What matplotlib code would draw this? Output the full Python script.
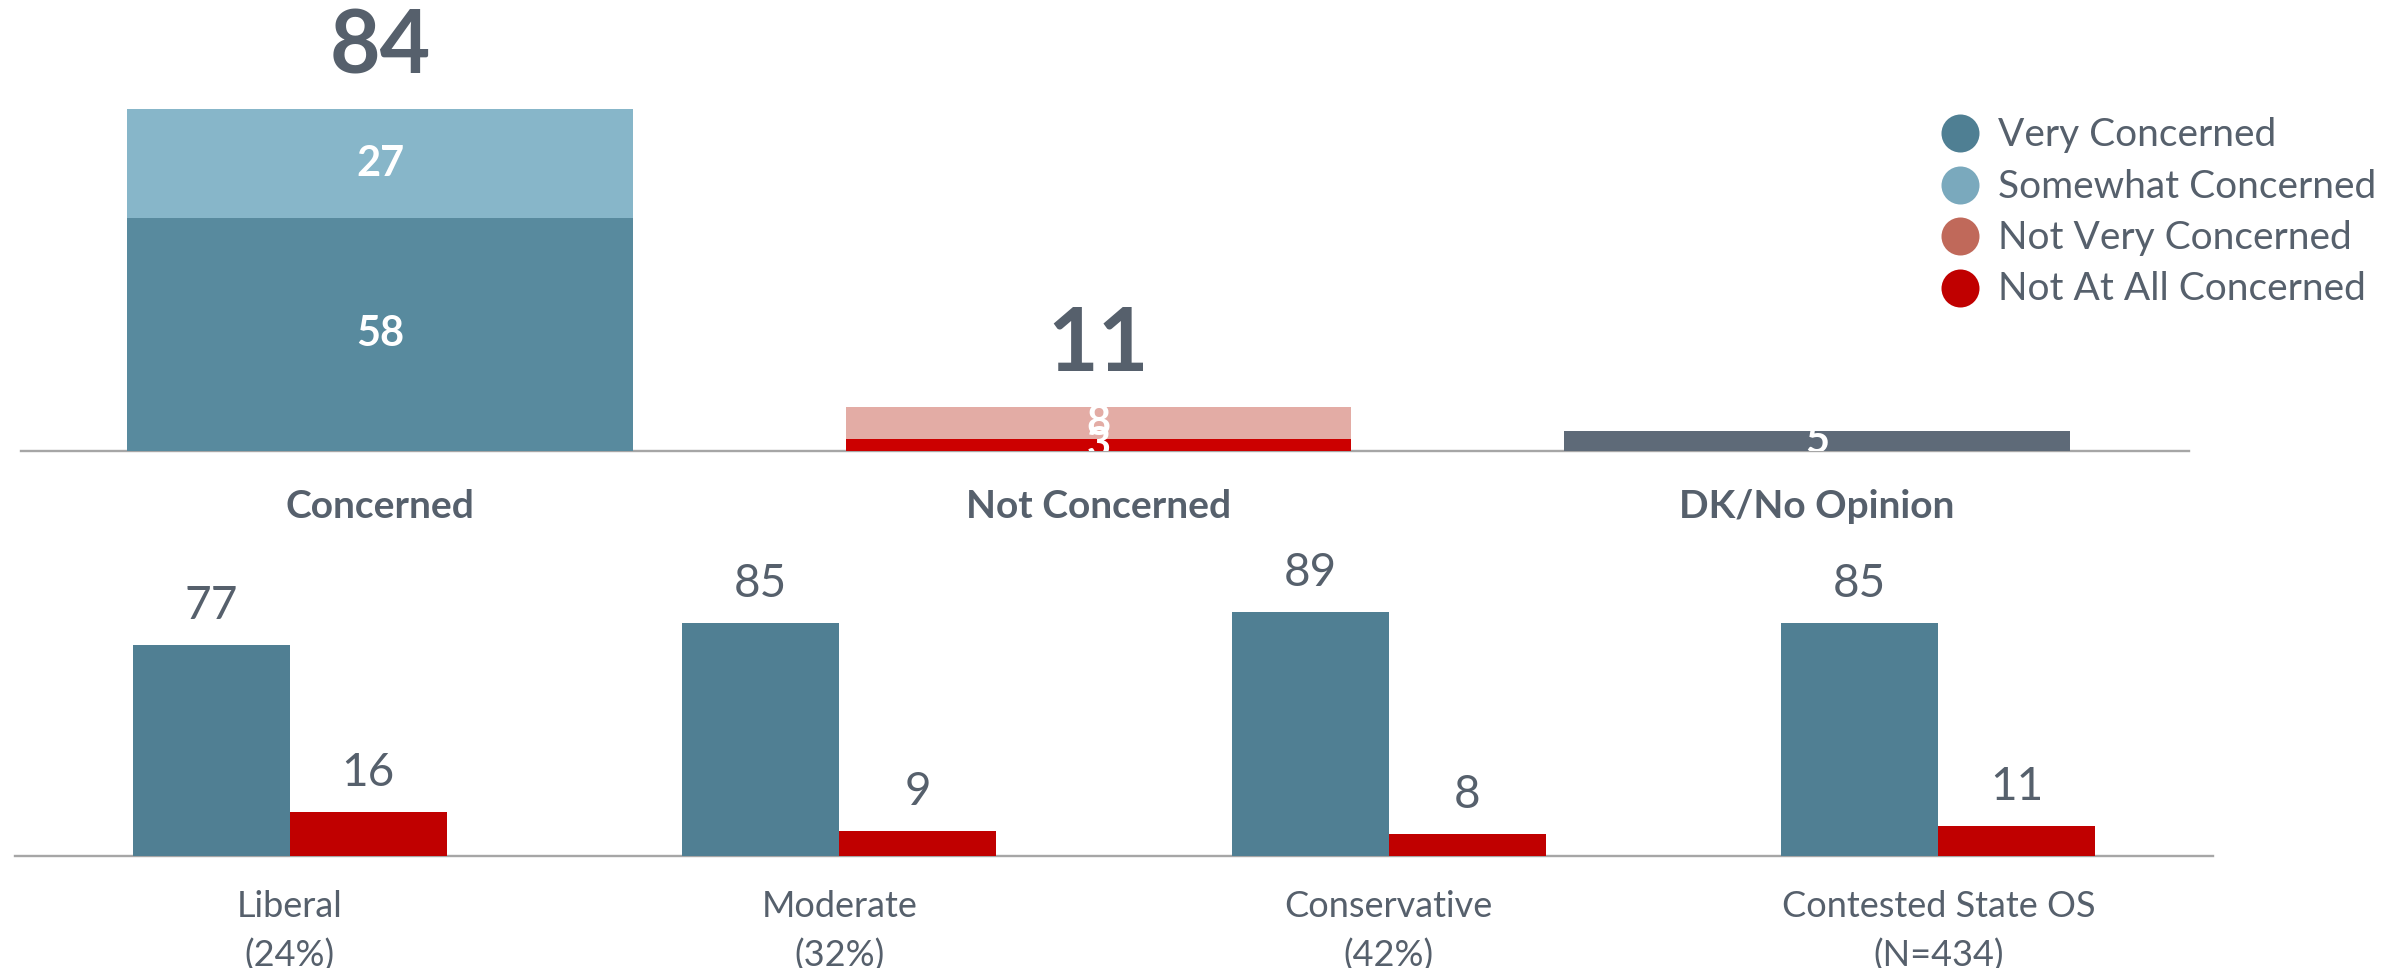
import matplotlib
matplotlib.use('Agg')
import matplotlib.pyplot as plt
import numpy as np

plt.rcParams['font.family'] = ['Lato', 'DejaVu Sans']

# ---------------- data ----------------
top_categories = ['Concerned', 'Not Concerned', 'DK/No Opinion']
very_concerned = [58, 0, 0]
somewhat_concerned = [27, 0, 0]
not_at_all_concerned = [0, 3, 0]
not_very_concerned = [0, 8, 0]
dk_no_opinion = [0, 0, 5]
top_totals = [84, 11, None]

legend_labels = ['Very Concerned', 'Somewhat Concerned',
                 'Not Very Concerned', 'Not At All Concerned']

groups = ['Liberal\n(24%)', 'Moderate\n(32%)', 'Conservative\n(42%)',
          'Contested State OS\n(N=434)']
concerned_by_group = [77, 85, 89, 85]
not_concerned_by_group = [16, 9, 8, 11]

# ---------------- style ----------------
C_VERY = '#588a9e'
C_SOME = '#87b6c9'
C_NOTVERY = '#e3aca5'
C_NOTALL = '#cc0000'
C_DK = '#5e6a78'
C_BLUE2 = '#507f93'
C_RED2 = '#c00000'
LEG_COLORS = ['#4f7f93', '#7aa9bd', '#c0695a', '#c00000']
TXT = '#56606c'
BASE = '#a6a6a6'

W, H = 2385, 968
fig = plt.figure(figsize=(W / 100, H / 100), dpi=100)

PX = 0.72  # points per pixel at dpi 100

# ---------------- top chart ----------------
ax1 = fig.add_axes([21 / W, 1 - 451 / H, 2168 / W, 402 / H])
x1 = np.arange(len(top_categories))
bw1 = 0.704
stack_order = [
    (very_concerned, C_VERY),
    (somewhat_concerned, C_SOME),
    (not_at_all_concerned, C_NOTALL),
    (not_very_concerned, C_NOTVERY),
    (dk_no_opinion, C_DK),
]
bottom = np.zeros(len(top_categories))
seg_labels = []
for vals, col in stack_order:
    v = np.array(vals, dtype=float)
    ax1.bar(x1, v, bw1, bottom=bottom, color=col, zorder=2)
    for i, val in enumerate(v):
        if val > 0:
            seg_labels.append((i, bottom[i] + val / 2, int(val)))
    bottom = bottom + v

for i, y, val in seg_labels:
    ax1.text(i, y, str(val), ha='center', va='center', color='white',
             fontsize=30, fontweight='bold', clip_on=True, zorder=3)

for i, tot in enumerate(top_totals):
    if tot is not None:
        ax1.annotate(str(tot), xy=(i, bottom[i]), xytext=(0, 36 * PX),
                     textcoords='offset points', ha='center', va='baseline',
                     fontsize=63, fontweight='bold', color=TXT,
                     annotation_clip=False)

for i, cat in enumerate(top_categories):
    ax1.annotate(cat, xy=(i, 0), xycoords=('data', 'axes fraction'),
                 xytext=(0, -67 * PX), textcoords='offset points',
                 ha='center', va='baseline', fontsize=28, fontweight='bold',
                 color=TXT, annotation_clip=False)

ax1.set_xlim(-0.5, 2.518)
ax1.set_ylim(0, 100)

# ---------------- bottom chart ----------------
ax2 = fig.add_axes([15 / W, 1 - 856 / H, 2198 / W, 274 / H])
x2 = np.arange(len(groups))
bw2 = 0.286
ax2.bar(x2 - bw2 / 2, concerned_by_group, bw2, color=C_BLUE2, zorder=2)
ax2.bar(x2 + bw2 / 2, not_concerned_by_group, bw2, color=C_RED2, zorder=2)
for i in range(len(groups)):
    for dx, val in ((-bw2 / 2, concerned_by_group[i]),
                    (bw2 / 2, not_concerned_by_group[i])):
        ax2.annotate(str(val), xy=(x2[i] + dx, val), xytext=(0, 26 * PX),
                     textcoords='offset points', ha='center', va='baseline',
                     fontsize=33, color=TXT, annotation_clip=False)
    ax2.annotate(groups[i], xy=(x2[i], 0), xycoords=('data', 'axes fraction'),
                 xytext=(0, -34 * PX), textcoords='offset points',
                 ha='center', va='top', fontsize=26, color=TXT,
                 linespacing=1.55, annotation_clip=False)
ax2.set_xlim(-0.5, 3.5)
ax2.set_ylim(0, 100)

for ax in (ax1, ax2):
    for s in ('top', 'left', 'right'):
        ax.spines[s].set_visible(False)
    ax.spines['bottom'].set_color(BASE)
    ax.spines['bottom'].set_linewidth(1.7)
    ax.spines['bottom'].set_zorder(1)
    ax.set_xticks([])
    ax.set_yticks([])
    ax.patch.set_alpha(0)

# ---------------- legend ----------------
axl = fig.add_axes([0, 0, 1, 1])
axl.set_xlim(0, W)
axl.set_ylim(H, 0)
axl.axis('off')
axl.patch.set_alpha(0)
for k, (lab, col) in enumerate(zip(legend_labels, LEG_COLORS)):
    yc = 133 + k * 51.5
    axl.scatter([1960], [yc], s=(38 * PX) ** 2, color=col, linewidths=0)
    axl.text(1998, yc + 13, lab, ha='left', va='baseline', fontsize=28,
             color=TXT)

fig.savefig('out.png', dpi=100)
